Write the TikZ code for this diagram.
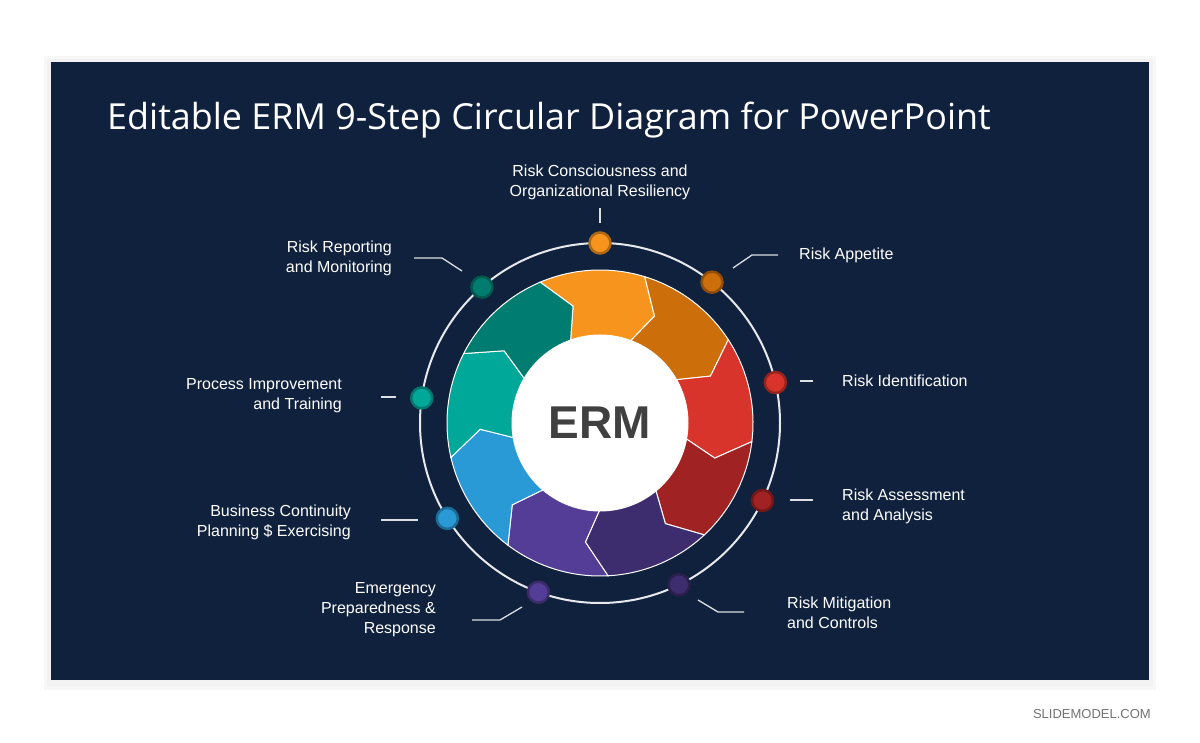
\documentclass[tikz,border=0pt]{standalone}
\usepackage{fontspec}
\setmainfont{Liberation Sans}
\newfontfamily\titlefont{Open Sans}
\definecolor{navy}{HTML}{0F213D}
\definecolor{cA}{HTML}{F7941D}
\definecolor{cB}{HTML}{CC6E0A}
\definecolor{cC}{HTML}{D9342B}
\definecolor{cD}{HTML}{A12222}
\definecolor{cE}{HTML}{3E2D6E}
\definecolor{cF}{HTML}{543D96}
\definecolor{cG}{HTML}{2A9AD6}
\definecolor{cH}{HTML}{00A89A}
\definecolor{cI}{HTML}{007D70}
\tikzset{
 lbl/.style={text=white,font=\fontsize{16}{20}\selectfont,inner sep=0pt},
 lead/.style={draw=white!85!navy,line width=1.3pt},
 ring/.style={draw=white!90!navy,line width=2pt},
 seg/.style={draw=white,line width=1pt},
}
\newcommand{\dotat}[3]{\node[circle,minimum size=21pt,inner sep=0pt,fill=#1,draw=#1!70!black,line width=2.5pt] (#3) at (#2:180) {};}
\begin{document}
\begin{tikzpicture}[x=1pt,y=-1pt]
\useasboundingbox (0,0) rectangle (1200,743);
\fill[white] (0,0) rectangle (1200,743);
\fill[black!3] (44,56) rectangle (1156,690);
\fill[black!5] (47,59) rectangle (1153,686);
\fill[navy] (51,62) rectangle (1149,680);
\node[anchor=base west,text=white,font=\titlefont\fontsize{35.9}{40}\selectfont,inner sep=0pt] (title) at (107,130) {Editable ERM 9-Step Circular Diagram for PowerPoint};
\node[anchor=base east,text=black!55,font=\fontsize{13}{15}\selectfont,inner sep=0pt] (sm) at (1151,718) {SLIDEMODEL.COM};
\begin{scope}[shift={(600,423)},yscale=-1]
 \draw[ring] (0,0) circle (180);
 \foreach \a/\c in {113/cA,73/cB,33/cC,-7/cD,-47/cE,-87/cF,-127/cG,-167/cH,-207/cI}{
  \pgfmathsetmacro{\b}{\a-40}
  \pgfmathsetmacro{\bt}{\a-50}
  \pgfmathsetmacro{\bi}{\a-43.5}
  \pgfmathsetmacro{\at}{\a-10}
  \pgfmathsetmacro{\ai}{\a-3.5}
  \filldraw[seg,fill=\c] (\a:153) arc[start angle=\a,end angle=\b,radius=153] -- (\bt:120) -- (\bi:88) arc[start angle=\bi,end angle=\ai,radius=88] -- (\at:120) -- cycle;
 }
 \fill[white] (0,0) circle (88);
 \node[font=\bfseries\fontsize{46}{46}\selectfont,text=black!75] (erm) at (0,0) {ERM};
 \dotat{cA}{90}{d1}
 \dotat{cB}{51.5}{d2}
 \dotat{cC}{13}{d3}
 \dotat{cD}{-25.5}{d4}
 \dotat{cE}{-64}{d5}
 \dotat{cF}{-110}{d6}
 \dotat{cG}{-148}{d7}
 \dotat{cH}{172}{d8}
 \dotat{cI}{131}{d9}
\end{scope}
% leaders
\draw[lead] (600,208) -- (600,223);
\draw[lead] (733,268) -- (752,255) -- (778,255);
\draw[lead] (800,381) -- (813,381);
\draw[lead] (790,500) -- (813,500);
\draw[lead] (698,600) -- (718,612) -- (744,612);
\draw[lead] (522,607) -- (500,620) -- (472,620);
\draw[lead] (381,520) -- (418,520);
\draw[lead] (381,397) -- (396,397);
\draw[lead] (462,271) -- (442,258) -- (414,258);
% labels
\node[lbl,align=center] (l1) at (600,182) {Risk Consciousness and\\Organizational Resiliency};
\node[lbl,anchor=west] (l2) at (799,255) {Risk Appetite};
\node[lbl,anchor=west] (l3) at (842,381) {Risk Identification};
\node[lbl,anchor=west,align=left] (l4) at (842,506) {Risk Assessment\\and Analysis};
\node[lbl,anchor=west,align=left] (l5) at (787,613) {Risk Mitigation\\and Controls};
\node[lbl,anchor=east,align=right] (l6) at (436,610) {Emergency\\Preparedness \&\\Response};
\node[lbl,anchor=east,align=right] (l7) at (351,522) {Business Continuity\\Planning \$ Exercising};
\node[lbl,anchor=east,align=right] (l8) at (342,396) {Process Improvement\\and Training};
\node[lbl,anchor=east,align=right] (l9) at (392,258) {Risk Reporting\\and Monitoring};
\end{tikzpicture}
\end{document}
